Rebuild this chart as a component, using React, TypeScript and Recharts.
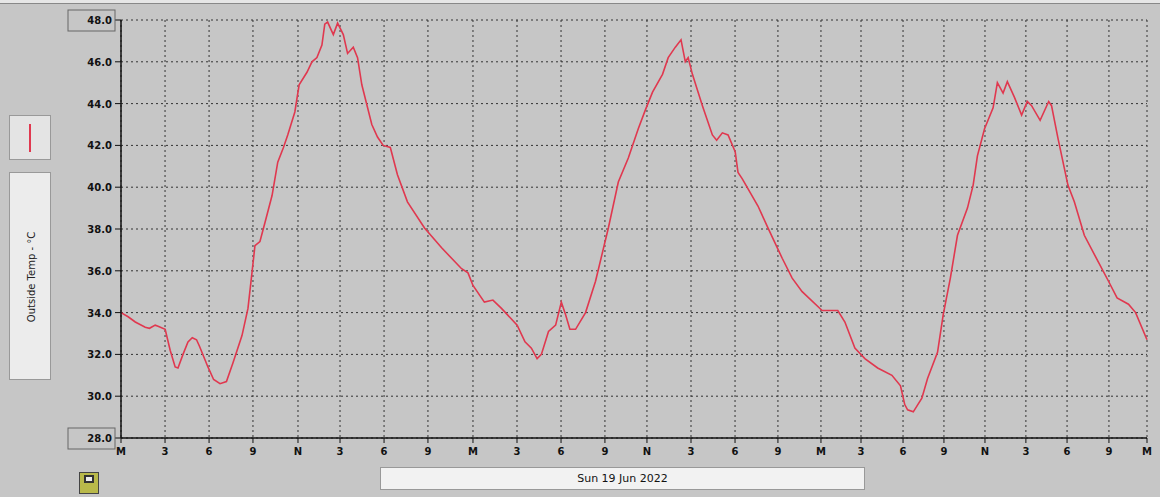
import { LineChart, Line, XAxis, YAxis, CartesianGrid } from 'recharts';

// position along the time axis (approx. hours from midnight, 0..72)
const hours = [
  0, 0.5, 1.0, 1.7, 2.0, 2.4, 2.6, 3.1, 3.45, 3.8, 4.0, 4.35, 4.7, 5.0, 5.3, 5.5, 6.1, 6.5, 6.95, 7.4,
  7.86, 8.49, 8.91, 9.19, 9.4, 9.75, 10.1, 10.6, 11.0, 11.4, 11.7, 12.2, 12.5, 13.05, 13.4, 13.75, 14.1,
  14.3, 14.5, 14.9, 15.2, 15.6, 15.9, 16.3, 16.6, 16.9, 17.6, 18.0, 18.4, 18.9, 19.4, 20.1, 21.3, 22.5,
  23.9, 24.35, 24.7, 25.5, 26.1, 26.7, 27.8, 28.35, 28.8, 29.2, 29.5, 30.0, 30.5, 30.9, 31.2, 31.5, 31.9,
  32.6, 33.3, 34.2, 34.9, 35.6, 36.3, 36.8, 37.3, 38.0, 38.4, 38.9, 39.3, 39.6, 39.8, 40.1, 40.8, 41.5,
  41.8, 42.2, 42.6, 43.1, 43.3, 43.6, 44.7, 45.4, 46.4, 47.1, 47.8, 49.2, 50.3, 50.8, 51.5, 52.2, 53.1,
  54.1, 54.7, 55.0, 55.2, 55.6, 56.2, 56.6, 57.3, 57.7, 58.2, 58.7, 59.4, 59.8, 60.1, 60.6, 61.2, 61.5,
  61.9, 62.2, 62.7, 63.2, 63.6, 63.9, 64.5, 65.1, 65.3, 65.75, 66.45, 66.9, 67.6, 68.6, 69.3, 69.9, 70.7,
  71.2, 72,
];

// outside temp, degrees C
const outsideTemp = [
  34.0, 33.8, 33.55, 33.3, 33.25, 33.4, 33.35, 33.2, 32.2, 31.4, 31.35, 32.0, 32.6, 32.8, 32.7, 32.4, 31.4, 30.8, 30.6, 30.7,
  31.6, 32.9, 34.2, 35.9, 37.2, 37.4, 38.3, 39.6, 41.2, 41.9, 42.5, 43.6, 44.9, 45.5, 46.0, 46.2, 46.8,
  47.8, 47.9, 47.3, 47.85, 47.3, 46.4, 46.7, 46.2, 44.9, 43.0, 42.4, 42.0, 41.9, 40.6, 39.3, 38.05, 37.1,
  36.1, 35.9, 35.3, 34.5, 34.6, 34.2, 33.4, 32.6, 32.3, 31.8, 32.0, 33.1, 33.4, 34.5, 33.9, 33.2, 33.2,
  34.0, 35.5, 38.05, 40.25, 41.4, 42.8, 43.7, 44.55, 45.4, 46.2, 46.7, 47.05, 46.0, 46.2, 45.4, 43.9, 42.5,
  42.25, 42.6, 42.5, 41.7, 40.7, 40.4, 39.1, 38.05, 36.6, 35.65, 35.0, 34.1, 34.1, 33.55, 32.3, 31.8, 31.35,
  31.0, 30.5, 29.6, 29.35, 29.25, 29.9, 30.85, 32.1, 33.9, 35.65, 37.7, 39.0, 40.1, 41.5, 42.8, 43.8, 45.0,
  44.5, 45.05, 44.3, 43.45, 44.1, 43.9, 43.2, 44.1, 43.9, 42.35, 40.1, 39.3, 37.7, 36.4, 35.5, 34.7, 34.4,
  34.0, 32.7,
];

// the original axis isn't evenly spaced, tick spots
const xTicks = [
  0, 3.09, 6.18, 9.26, 12.42, 15.37, 18.46, 21.54, 24.7, 27.79, 30.88, 33.96, 36.91,
  40.0, 43.09, 46.1, 49.12, 51.93, 54.88, 57.75, 60.63, 63.5, 66.39, 69.33, 72,
];
const xLabels = ['M', '3', '6', '9', 'N', '3', '6', '9', 'M', '3', '6', '9', 'N', '3', '6', '9', 'M', '3', '6', '9', 'N', '3', '6', '9', 'M'];
const yTicks = [28, 30, 32, 34, 36, 38, 40, 42, 44, 46, 48];

const rows = hours.map((h, i) => ({ h, temp: outsideTemp[i] }));

const FONT = '"DejaVu Sans", sans-serif';

function YTick({ x, y, payload }: any) {
  const boxed = payload.value === 28 || payload.value === 48;
  return (
    <g>
      {boxed && <rect x={x - 45} y={y - 10} width={47} height={21} fill="none" stroke="#666" />}
      <text x={x - 1} y={y + 4} textAnchor="end" fontFamily={FONT} fontSize={10} fontWeight="bold" fill="#111">
        {payload.value.toFixed(1)}
      </text>
    </g>
  );
}

function XTick({ x, y, payload }: any) {
  return (
    <text x={x} y={y + 10} textAnchor="middle" fontFamily={FONT} fontSize={10} fontWeight="bold" fill="#111">
      {xLabels[xTicks.indexOf(payload.value)]}
    </text>
  );
}

export default function App() {
  return (
    <div style={{ position: 'absolute', left: 0, top: 0, width: 1160, height: 497, background: '#c6c6c6', overflow: 'hidden' }}>
      <div style={{ position: 'absolute', left: 0, top: 0, width: 1160, height: 3, background: '#e6e6e6', borderBottom: '1px solid #888' }} />
      <LineChart width={1160} height={497} data={rows} margin={{ top: 20, right: 13, bottom: 29, left: 71 }}>
        <CartesianGrid stroke="#333" strokeDasharray="2 3" />
        <XAxis
          dataKey="h"
          type="number"
          domain={[0, 72]}
          ticks={xTicks}
          interval={0}
          height={30}
          tick={<XTick />}
          axisLine={{ stroke: '#111', strokeWidth: 1.5 }}
          tickLine={{ stroke: '#111' }}
          tickSize={5}
        />
        <YAxis
          type="number"
          domain={[28, 48]}
          ticks={yTicks}
          interval={0}
          width={50}
          tick={<YTick />}
          axisLine={{ stroke: '#111', strokeWidth: 1.5 }}
          tickLine={{ stroke: '#111' }}
          tickSize={6}
        />
        <Line
          type="linear"
          dataKey="temp"
          stroke="#e0384f"
          strokeWidth={1.6}
          dot={false}
          isAnimationActive={false}
        />
      </LineChart>

      {/* legend swatch */}
      <div style={{ position: 'absolute', left: 9, top: 115, width: 42, height: 45, background: '#e4e4e4', border: '1px solid #999', boxSizing: 'border-box' }}>
        <div style={{ position: 'absolute', left: 19, top: 8, width: 2, height: 28, background: '#e0384f' }} />
      </div>
      {/* axis title */}
      <div style={{ position: 'absolute', left: 9, top: 172, width: 42, height: 208, background: '#ececec', border: '1px solid #999', boxSizing: 'border-box' }}>
        <div
          style={{
            position: 'absolute',
            left: 21,
            top: 104,
            transform: 'translate(-50%, -50%) rotate(-90deg)',
            whiteSpace: 'nowrap',
            fontFamily: FONT,
            fontSize: 10,
            color: '#222',
          }}
        >
          Outside Temp - °C
        </div>
      </div>
      {/* date box */}
      <div
        style={{
          position: 'absolute',
          left: 380,
          top: 467,
          width: 485,
          height: 23,
          background: '#f2f2f2',
          border: '1px solid #999',
          boxSizing: 'border-box',
          textAlign: 'center',
          lineHeight: '21px',
          fontFamily: FONT,
          fontSize: 11,
          color: '#111',
        }}
      >
        Sun 19 Jun 2022
      </div>
      {/* print icon */}
      <div style={{ position: 'absolute', left: 79, top: 472, width: 20, height: 22, background: '#b9b94a', border: '1px solid #444', boxSizing: 'border-box' }}>
        <div style={{ position: 'absolute', left: 4, top: 2, width: 10, height: 8, border: '2px solid #333', boxSizing: 'border-box', background: '#eee' }} />
      </div>
    </div>
  );
}
